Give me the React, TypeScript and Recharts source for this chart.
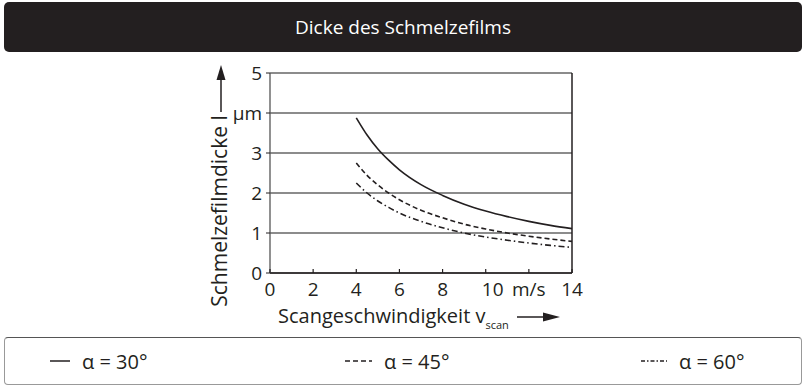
import { LineChart, Line, XAxis, YAxis, CartesianGrid, ReferenceLine, Label } from "recharts";

const speeds = [4, 4.5, 5, 5.5, 6, 7, 8, 9, 10, 11, 12, 13, 14];
const alpha30 = [3.88, 3.45, 3.1, 2.82, 2.58, 2.21, 1.94, 1.72, 1.55, 1.41, 1.29, 1.19, 1.11];
const alpha45 = [2.75, 2.44, 2.2, 2.0, 1.83, 1.57, 1.38, 1.22, 1.1, 1.0, 0.92, 0.85, 0.79];
const alpha60 = [2.25, 2.0, 1.8, 1.64, 1.5, 1.29, 1.13, 1.0, 0.9, 0.82, 0.75, 0.69, 0.64];
const xTicks = [0, 2, 4, 6, 8, 10, 12, 14];
const yTicks = [0, 1, 2, 3, 4, 5];

const series = [
  { key: "a30", name: "α = 30°", dash: undefined as string | undefined, legendDash: undefined as string | undefined },
  { key: "a45", name: "α = 45°", dash: "5 3", legendDash: "5 3" },
  { key: "a60", name: "α = 60°", dash: "6 3 1.5 3", legendDash: "4 2 1.5 2" },
];

const data = speeds.map((v, i) => ({ v, a30: alpha30[i], a45: alpha45[i], a60: alpha60[i] }));

const INK = "#231f20";
const FONT = "'Open Sans', sans-serif";

// legend layout: sample line start/width, gap before the text
const legendPos = [
  { left: 50, w: 20 },
  { left: 345, w: 27 },
  { left: 641, w: 26 },
];

function XTick(props: any) {
  const { x, y, payload } = props;
  const label = payload.value === 12 ? "m/s" : String(payload.value);
  const dx = payload.value === 10 ? 7 : 0;
  return (
    <g>
      <line x1={x} x2={x} y1={y - 10} y2={y - 14} stroke={INK} strokeWidth={1.2} />
      <text x={x + dx} y={y} dy="0.71em" textAnchor="middle" fontSize={19} fill={INK} fontFamily={FONT}>
        {label}
      </text>
    </g>
  );
}

function XLabel(props: any) {
  const { x, y, width } = props.viewBox;
  const cx = x + width / 2;
  const ty = y + 50;
  return (
    <g fontFamily={FONT} fill={INK}>
      <text x={cx - 143} y={ty} textAnchor="start" fontSize={20}>
        Scangeschwindigkeit v
        <tspan fontSize={11} dy={6}>scan</tspan>
      </text>
      <line x1={cx + 96} x2={cx + 124} y1={ty - 6} y2={ty - 6} stroke={INK} strokeWidth={1.5} />
      <polygon points={`${cx + 139},${ty - 6} ${cx + 122},${ty - 10.5} ${cx + 122},${ty - 1.5}`} fill={INK} />
    </g>
  );
}

function YLabel(props: any) {
  const { x, y } = props.viewBox;
  const lx = x - 10;
  const cy = y + 138;
  return (
    <g fontFamily={FONT} fill={INK}>
      <text x={lx} y={cy} textAnchor="middle" fontSize={21} transform={`rotate(-90 ${lx} ${cy})`} dy="0.35em">
        Schmelzefilmdicke l
      </text>
      <line x1={lx + 1} x2={lx + 1} y1={y + 39} y2={y + 4} stroke={INK} strokeWidth={1.5} />
      <polygon points={`${lx + 1},${y - 8} ${lx - 3.5},${y + 7} ${lx + 5.5},${y + 7}`} fill={INK} />
    </g>
  );
}

export default function App() {
  return (
    <div style={{ position: "fixed", left: 0, top: 0, width: 806, height: 386, background: "#fff", fontFamily: FONT }}>
      <div
        style={{
          position: "absolute",
          left: 4,
          top: 2,
          width: 798,
          height: 50,
          background: INK,
          borderRadius: 5,
          color: "#fff",
          fontSize: 19,
          lineHeight: "50px",
          textAlign: "center",
        }}
      >
        Dicke des Schmelzefilms
      </div>
      <div style={{ position: "absolute", left: 0, top: 0 }}>
        <LineChart width={806} height={386} data={data} margin={{ top: 73, right: 234, bottom: 83, left: 230 }}>
          <CartesianGrid vertical={false} stroke="#666" strokeWidth={1.3} />
          <XAxis
            dataKey="v"
            type="number"
            domain={[0, 14]}
            ticks={xTicks}
            height={30}
            tickSize={0}
            tickMargin={10}
            tick={<XTick />}
            axisLine={{ stroke: INK, strokeWidth: 1.3 }}
            tickLine={false}
          >
            <Label content={<XLabel />} />
          </XAxis>
          <YAxis
            type="number"
            domain={[0, 5]}
            ticks={yTicks}
            width={40}
            tickSize={4}
            tickMargin={4}
            tickFormatter={(v: number) => (v === 4 ? "μm" : String(v))}
            tick={{ fontSize: 19, fill: INK, fontFamily: FONT }}
            axisLine={{ stroke: "#555", strokeWidth: 1.3 }}
            tickLine={{ stroke: INK }}
          >
            <Label content={<YLabel />} />
          </YAxis>
          <ReferenceLine x={14} stroke={INK} strokeWidth={1.5} />
          {series.map((s) => (
            <Line
              key={s.key}
              dataKey={s.key}
              type="monotone"
              stroke={INK}
              strokeWidth={1.6}
              strokeDasharray={s.dash}
              dot={false}
              isAnimationActive={false}
            />
          ))}
        </LineChart>
      </div>
      <div
        style={{
          position: "absolute",
          left: 4,
          top: 337,
          width: 796,
          height: 46,
          border: "1px solid #999",
          borderTop: "1.5px solid #555",
          borderRadius: 4,
        }}
      >
        {series.map((s, i) => (
          <div
            key={s.key}
            style={{
              position: "absolute",
              left: legendPos[i].left - 5,
              top: 0,
              height: 46,
              display: "flex",
              alignItems: "center",
              fontSize: 20,
              color: INK,
            }}
          >
            <svg width={legendPos[i].w} height={10} style={{ marginRight: 12 }}>
              <line x1={0} x2={legendPos[i].w} y1={5} y2={5} stroke={INK} strokeWidth={1.5} strokeDasharray={s.legendDash} />
            </svg>
            {s.name}
          </div>
        ))}
      </div>
    </div>
  );
}
